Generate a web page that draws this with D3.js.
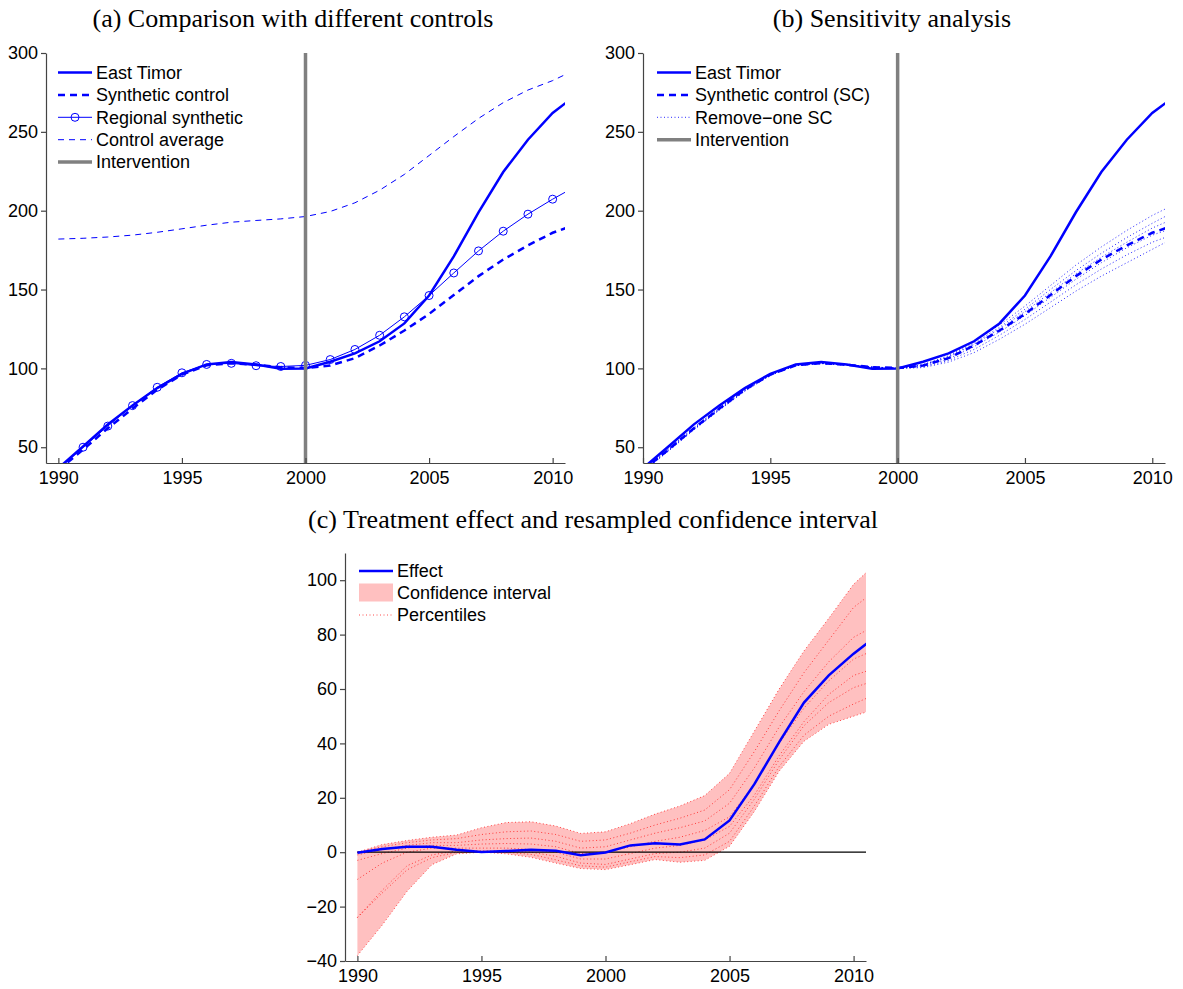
<!DOCTYPE html>
<html>
<head>
<meta charset="utf-8">
<script src="https://cdn.jsdelivr.net/npm/d3@7"></script>
<style>
  body { margin: 0; background: #fff; }
  svg { display: block; }
</style>
</head>
<body>
<svg id="chart" width="1183" height="989"></svg>
<script>
// ---- data (GDP index, 2000 = 100) ----
const years = [1990, 1991, 1992, 1993, 1994, 1995, 1996, 1997, 1998, 1999, 2000,
               2001, 2002, 2003, 2004, 2005, 2006, 2007, 2008, 2009, 2010, 2011];

const eastTimor = [36.7, 50.5, 64.5, 76.5, 87.5, 96.5, 102.5, 104, 102.5, 99.8, 100,
                   104.2, 109.5, 117.2, 128.5, 146.2, 171, 199, 224.5, 245, 262, 274];
const syntheticControl = [35.5, 48.5, 62, 74.5, 86.5, 96, 102, 103.3, 102.3, 100.8, 100.2,
                          101.8, 106.5, 114.5, 124, 134.5, 146.5, 158.5, 169, 178, 186, 191.5];
const regionalSynthetic = [36, 50, 63.4, 76.4, 88, 97.2, 102.5, 103.2, 101.7, 101.2, 101.9,
                           105.6, 112, 121, 132.7, 146.2, 160.5, 174.5, 187, 197.8, 207.3, 216];
const controlAverage = [182, 182.5, 183.3, 184.5, 186.3, 188.5, 190.8, 192.7, 193.8, 194.8, 196.3,
                        199.5, 205, 213, 223, 235, 247, 258.5, 268.5, 276.5, 282.5, 290];

// leave-one-out synthetic controls
const removeOne1 = [36, 49, 62.5, 75, 87, 96.5, 102.3, 103.5, 102.5, 100.8, 100,
                    102.5, 108, 117, 127.5, 139.5, 152.5, 165.5, 177, 187.5, 197, 205];
const removeOne2 = [35, 48, 61.5, 74, 86, 96, 102, 103.3, 102.2, 100.6, 100,
                    102.2, 107.5, 116, 126, 137.5, 150, 162, 173, 183, 192, 200.5];
const removeOne3 = [35.8, 48.8, 62.2, 74.8, 86.8, 96.3, 102.2, 103.4, 102.4, 100.9, 100.1,
                    102, 107, 115.2, 125, 136, 148, 160, 170.5, 180, 189, 196];
const removeOne4 = [34.5, 47.5, 61, 73.5, 85.5, 95.5, 101.8, 103.2, 102.3, 100.9, 100.2,
                    101.5, 106, 113.8, 123, 133.5, 145, 156.5, 167, 176.5, 184.5, 190];
const removeOne5 = [35.2, 48.2, 61.7, 74.2, 86.2, 95.8, 101.9, 103.2, 102.1, 100.7, 100,
                    101, 105, 112, 121, 131, 142, 153, 163, 172, 180, 186];
const removeOne6 = [34.8, 47.8, 61.3, 73.8, 85.8, 95.6, 101.7, 103, 102, 100.6, 99.9,
                    100.5, 104, 110, 118.5, 128, 138.5, 149, 158.5, 167, 175.5, 184];
const removeOneSeries = [removeOne1, removeOne2, removeOne3, removeOne4, removeOne5, removeOne6];

// treatment effect and resampled percentiles
const effect = [-0.2, 1.2, 2, 2, 0.9, 0.1, 0.4, 0.9, 0.5, -1.1, -0.1,
                2.5, 3.3, 2.8, 4.7, 11.7, 25, 40.5, 55, 65, 73, 80];
const pctUpper = [0, 2.8, 4.3, 5.5, 6.3, 9, 10.9, 11.2, 9.6, 6.9, 7.5,
                  10.5, 14, 17, 20.8, 29, 44.5, 60, 74, 86, 98.5, 107];
const pct6 = [0, 2, 3.5, 4.5, 5, 6.5, 7.5, 7.8, 6.5, 4, 4.5,
              7, 10, 12.5, 15.5, 23, 37, 52, 66, 78, 90, 97];
const pct5 = [-1, 1, 2.5, 3.5, 3.5, 4.5, 5, 5.2, 4, 1.5, 2,
              4.5, 7, 9, 11.5, 18, 31, 46, 59, 70, 79, 84];
const pct4 = [-3, -0.5, 1.5, 2.5, 2.5, 3, 3.2, 3, 2, -0.5, 0,
              2, 4, 5.5, 8, 13, 25, 40, 53, 63, 71, 75];
const pct3 = [-10, -4, 0, 1.5, 1.5, 1.5, 1.5, 1, 0, -2.5, -2.5,
              -0.5, 1.5, 2.5, 4.5, 9.5, 21, 35.5, 48, 58, 65, 68];
const pct2 = [-24, -14, -5, -1, 0.5, 0.5, 0.5, 0, -1.5, -4, -4.5,
              -2.5, -0.5, 0, 1.5, 7, 19.5, 34, 46.5, 55, 60.5, 63.5];
const pct1 = [-24, -15, -6.5, -2, 0, 0.2, 0, -0.8, -2.8, -5, -5.5,
              -3.5, -1.6, -2, -1, 4, 17, 31.5, 43, 50, 54.5, 58.5];
const pctLower = [-38, -26.8, -14.4, -4.6, -0.6, 0, -0.6, -1.9, -4, -6, -6.4,
                  -4.6, -2.7, -3.7, -3, 2.2, 15, 29.8, 40.8, 47, 50, 53];
const percentiles = [pctUpper, pct6, pct5, pct4, pct3, pct2, pct1, pctLower];

const interventionYear = 2000;
const yearTicks = [1990, 1995, 2000, 2005, 2010];
const levelTicks = [50, 100, 150, 200, 250, 300];
const effectTicks = [-40, -20, 0, 20, 40, 60, 80, 100];

// ---- styling ----
const BLUE = "#0000ff";
const GREY = "#808080";
const PINK = "#ffc0c0";
const SANS = "'Liberation Sans', Arial, Helvetica, sans-serif";
const SERIF = "'Liberation Serif', 'Times New Roman', serif";

const svg = d3.select("#chart");

function series(values) {
  return years.map((yr, i) => ({ year: yr, v: values[i] }));
}

// builds one set of axes and returns its scales plus a clipped plotting group
function makePanel(id, xDomain, xRange, yDomain, yRange, yTicks) {
  const x = d3.scaleLinear().domain(xDomain).range(xRange);
  const y = d3.scaleLinear().domain(yDomain).range(yRange);

  svg.append("clipPath").attr("id", id)
    .append("rect")
    .attr("x", xRange[0]).attr("y", yRange[1])
    .attr("width", xRange[1] - xRange[0]).attr("height", yRange[0] - yRange[1]);

  const xAxis = svg.append("g")
    .attr("transform", `translate(0,${yRange[0]})`)
    .call(d3.axisBottom(x).tickValues(yearTicks).tickFormat(d3.format("d"))
      .tickSizeInner(-5).tickSizeOuter(0).tickPadding(8));
  const yAxis = svg.append("g")
    .attr("transform", `translate(${xRange[0]},0)`)
    .call(d3.axisLeft(y).tickValues(yTicks).tickSizeInner(5).tickSizeOuter(0).tickPadding(3));

  [xAxis, yAxis].forEach(a => {
    a.selectAll("path, line").attr("stroke", "#444").attr("stroke-width", 1.2);
    a.selectAll("text").attr("fill", "#000").style("font-family", SANS).style("font-size", "18px");
  });

  const plot = svg.insert("g", "g").attr("clip-path", `url(#${id})`);
  return { x, y, plot };
}

function drawLine(panel, values, style) {
  const line = d3.line().x(d => panel.x(d.year)).y(d => panel.y(d.v));
  return panel.plot.append("path")
    .datum(series(values))
    .attr("d", line)
    .attr("fill", "none")
    .attr("stroke", style.color || BLUE)
    .attr("stroke-width", style.width || 1)
    .attr("stroke-dasharray", style.dash || null)
    .attr("stroke-opacity", style.opacity || 1);
}

function drawIntervention(panel) {
  panel.plot.append("line")
    .attr("x1", panel.x(interventionYear)).attr("x2", panel.x(interventionYear))
    .attr("y1", panel.y.range()[0]).attr("y2", panel.y.range()[1])
    .attr("stroke", GREY).attr("stroke-width", 3.5);
}

function legend(x0, yRows, items) {
  const g = svg.append("g");
  items.forEach((it, i) => {
    const y = yRows[i];
    if (it.patch) {
      g.append("rect").attr("x", x0).attr("y", y - 9).attr("width", 34).attr("height", 18)
        .attr("fill", it.patch);
    } else {
      g.append("line").attr("x1", x0).attr("x2", x0 + 34).attr("y1", y).attr("y2", y)
        .attr("stroke", it.color || BLUE).attr("stroke-width", it.width || 1)
        .attr("stroke-dasharray", it.dash || null).attr("stroke-opacity", it.opacity || 1);
      if (it.marker) {
        g.append("circle").attr("cx", x0 + 17).attr("cy", y).attr("r", 4)
          .attr("fill", "none").attr("stroke", BLUE).attr("stroke-width", 1);
      }
    }
    g.append("text").attr("x", x0 + 38).attr("y", y).attr("dy", "0.35em")
      .style("font-family", SANS).style("font-size", "18px").text(it.label);
  });
}

function title(x, y, text) {
  svg.append("text").attr("x", x).attr("y", y).attr("text-anchor", "middle")
    .style("font-family", SERIF).style("font-size", "26px").text(text);
}

// ---- (a) comparison with different controls ----
const pa = makePanel("clipA", [1989.5, 2010.5], [46, 565], [40, 300], [463, 53], levelTicks);
drawLine(pa, eastTimor, { width: 2.5 });
drawLine(pa, syntheticControl, { width: 2.5, dash: "7,5" });
drawLine(pa, regionalSynthetic, { width: 1 });
pa.plot.selectAll("circle.regional")
  .data(series(regionalSynthetic))
  .join("circle")
  .attr("class", "regional")
  .attr("cx", d => pa.x(d.year)).attr("cy", d => pa.y(d.v)).attr("r", 4)
  .attr("fill", "none").attr("stroke", BLUE).attr("stroke-width", 1);
drawLine(pa, controlAverage, { width: 1, dash: "6,5" });
drawIntervention(pa);
legend(58, [72.5, 94.9, 117.3, 139.7, 162.1], [
  { label: "East Timor", width: 2.5 },
  { label: "Synthetic control", width: 2.5, dash: "7,5" },
  { label: "Regional synthetic", width: 1, marker: true },
  { label: "Control average", width: 1, dash: "6,5" },
  { label: "Intervention", width: 3.5, color: GREY }
]);
title(293, 27, "(a) Comparison with different controls");

// ---- (b) sensitivity analysis ----
const pb = makePanel("clipB", [1990, 2010.5], [643, 1165], [40, 300], [463, 53], levelTicks);
drawLine(pb, eastTimor, { width: 2.5 });
drawLine(pb, syntheticControl, { width: 2.5, dash: "7,5" });
removeOneSeries.forEach(s => drawLine(pb, s, { width: 1, dash: "1,2.5", opacity: 0.85 }));
drawIntervention(pb);
legend(657, [72.5, 94.9, 117.3, 139.7], [
  { label: "East Timor", width: 2.5 },
  { label: "Synthetic control (SC)", width: 2.5, dash: "7,5" },
  { label: "Remove\u2212one SC", width: 1, dash: "1,2.5", opacity: 0.85 },
  { label: "Intervention", width: 3.5, color: GREY }
]);
title(892, 27, "(b) Sensitivity analysis");

// ---- (c) treatment effect with resampled confidence interval ----
const pc = makePanel("clipC", [1989.5, 2010.5], [345, 866], [-40, 110], [961, 553], effectTicks);
const band = d3.area()
  .x(d => pc.x(d.year))
  .y0(d => pc.y(d.lo))
  .y1(d => pc.y(d.hi));
pc.plot.append("path")
  .datum(years.map((yr, i) => ({ year: yr, lo: pctLower[i], hi: pctUpper[i] })))
  .attr("d", band)
  .attr("fill", PINK);
percentiles.forEach(p => drawLine(pc, p, { width: 1, color: "#ff0000", dash: "1,2.5", opacity: 0.7 }));
pc.plot.append("line")
  .attr("x1", pc.x(years[0])).attr("x2", pc.x.range()[1])
  .attr("y1", pc.y(0)).attr("y2", pc.y(0))
  .attr("stroke", "#000").attr("stroke-width", 1.2);
drawLine(pc, effect, { width: 2.5 });
legend(359, [571, 592.5, 615], [
  { label: "Effect", width: 2.5 },
  { label: "Confidence interval", patch: PINK },
  { label: "Percentiles", width: 1, color: "#ff0000", dash: "1,2.5", opacity: 0.7 }
]);
title(593, 528, "(c) Treatment effect and resampled confidence interval");
</script>
</body>
</html>
